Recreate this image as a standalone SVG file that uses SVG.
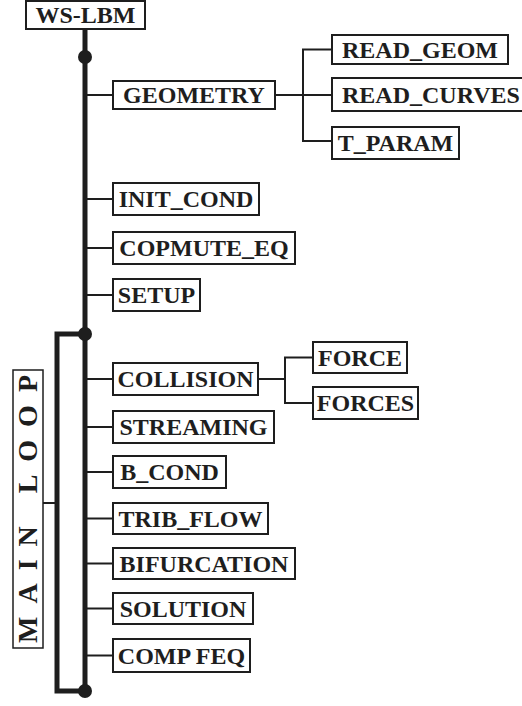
<svg xmlns="http://www.w3.org/2000/svg" width="522" height="706" viewBox="0 0 522 706">
  <style>
    .box { fill: #fff; stroke: #1e1e1e; stroke-width: 2; }
    .lbl { font-family: "Liberation Serif", "Times New Roman", serif; font-weight: bold; font-size: 24px; fill: #1e1e1e; text-anchor: middle; }
    .thin { fill: none; stroke: #1e1e1e; stroke-width: 2; }
    .thick { fill: none; stroke: #1e1e1e; stroke-width: 5; }
    .dot { fill: #1e1e1e; }
  </style>
  <rect width="522" height="706" fill="#fff"/>

  <!-- connectors -->
  <g id="connectors">
    <!-- main trunk -->
    <line class="thick" x1="85" y1="29" x2="85" y2="691"/>
    <!-- main loop return path -->
    <path class="thick" d="M85,334 H57 V691 H85"/>
    <circle class="dot" cx="85" cy="57" r="7"/>
    <circle class="dot" cx="85" cy="334" r="7"/>
    <circle class="dot" cx="85" cy="691" r="7"/>
    <!-- loop label tie -->
    <line class="thin" x1="43" y1="503" x2="57" y2="503"/>
    <!-- trunk branches -->
    <line class="thin" x1="85" y1="95" x2="113" y2="95"/>
    <line class="thin" x1="85" y1="199" x2="113" y2="199"/>
    <line class="thin" x1="85" y1="248" x2="113" y2="248"/>
    <line class="thin" x1="85" y1="295" x2="113" y2="295"/>
    <line class="thin" x1="85" y1="379" x2="113" y2="379"/>
    <line class="thin" x1="85" y1="427" x2="113" y2="427"/>
    <line class="thin" x1="85" y1="472" x2="113" y2="472"/>
    <line class="thin" x1="85" y1="518.5" x2="113" y2="518.5"/>
    <line class="thin" x1="85" y1="563.5" x2="113" y2="563.5"/>
    <line class="thin" x1="85" y1="608.5" x2="113" y2="608.5"/>
    <line class="thin" x1="85" y1="655.5" x2="113" y2="655.5"/>
    <!-- geometry sub-branches -->
    <line class="thin" x1="275" y1="95" x2="332" y2="95"/>
    <path class="thin" d="M332,49.5 H303 V141 H332"/>
    <!-- collision sub-branches -->
    <line class="thin" x1="258" y1="379" x2="285" y2="379"/>
    <path class="thin" d="M313,357.5 H285 V403 H313"/>
  </g>

  <g id="ws-lbm"><rect class="box" x="26" y="1" width="119" height="28"/><text class="lbl" x="85.5" y="23">WS-LBM</text></g>
  <g id="geometry"><rect class="box" x="113" y="81" width="162" height="28"/><text class="lbl" x="194" y="103">GEOMETRY</text></g>
  <g id="read-geom"><rect class="box" x="332" y="35" width="176" height="29"/><text class="lbl" x="420" y="57.5">READ_GEOM</text></g>
  <g id="read-curves"><rect class="box" x="332" y="78" width="196" height="33"/><text class="lbl" x="342" y="102.5" style="text-anchor:start">READ_CURVES</text></g>
  <g id="t-param"><rect class="box" x="332" y="127" width="127" height="32"/><text class="lbl" x="395.5" y="151">T_PARAM</text></g>
  <g id="init-cond"><rect class="box" x="113" y="183" width="146" height="32"/><text class="lbl" x="186" y="207">INIT_COND</text></g>
  <g id="copmute-eq"><rect class="box" x="113" y="232" width="182" height="32"/><text class="lbl" x="204" y="256">COPMUTE_EQ</text></g>
  <g id="setup"><rect class="box" x="113" y="279" width="87" height="32"/><text class="lbl" x="156.5" y="303">SETUP</text></g>
  <g id="collision"><rect class="box" x="113" y="363" width="145" height="32"/><text class="lbl" x="185.5" y="387">COLLISION</text></g>
  <g id="force"><rect class="box" x="313" y="342" width="94" height="31"/><text class="lbl" x="360" y="365.5">FORCE</text></g>
  <g id="forces"><rect class="box" x="313" y="387" width="105" height="32"/><text class="lbl" x="365.5" y="411">FORCES</text></g>
  <g id="streaming"><rect class="box" x="113" y="411" width="161" height="32"/><text class="lbl" x="193.5" y="435">STREAMING</text></g>
  <g id="b-cond"><rect class="box" x="113" y="456" width="113" height="32"/><text class="lbl" x="169.5" y="480">B_COND</text></g>
  <g id="trib-flow"><rect class="box" x="113" y="503" width="155" height="31"/><text class="lbl" x="190.5" y="526.5">TRIB_FLOW</text></g>
  <g id="bifurcation"><rect class="box" x="113" y="548" width="182" height="31"/><text class="lbl" x="204" y="571.5">BIFURCATION</text></g>
  <g id="solution"><rect class="box" x="113" y="593" width="140" height="31"/><text class="lbl" x="183" y="616.5">SOLUTION</text></g>
  <g id="comp-feq"><rect class="box" x="113" y="639" width="137" height="33"/><text class="lbl" x="181.5" y="663.5">COMP FEQ</text></g>

  <g id="main-loop">
    <rect class="box" x="13" y="370" width="30" height="278" style="stroke-width:1.5"/>
    <text class="lbl" transform="translate(37,509) rotate(-90)" x="0" y="0" style="font-size:28px" textLength="268" lengthAdjust="spacing">MAIN  LOOP</text>
  </g>
</svg>
